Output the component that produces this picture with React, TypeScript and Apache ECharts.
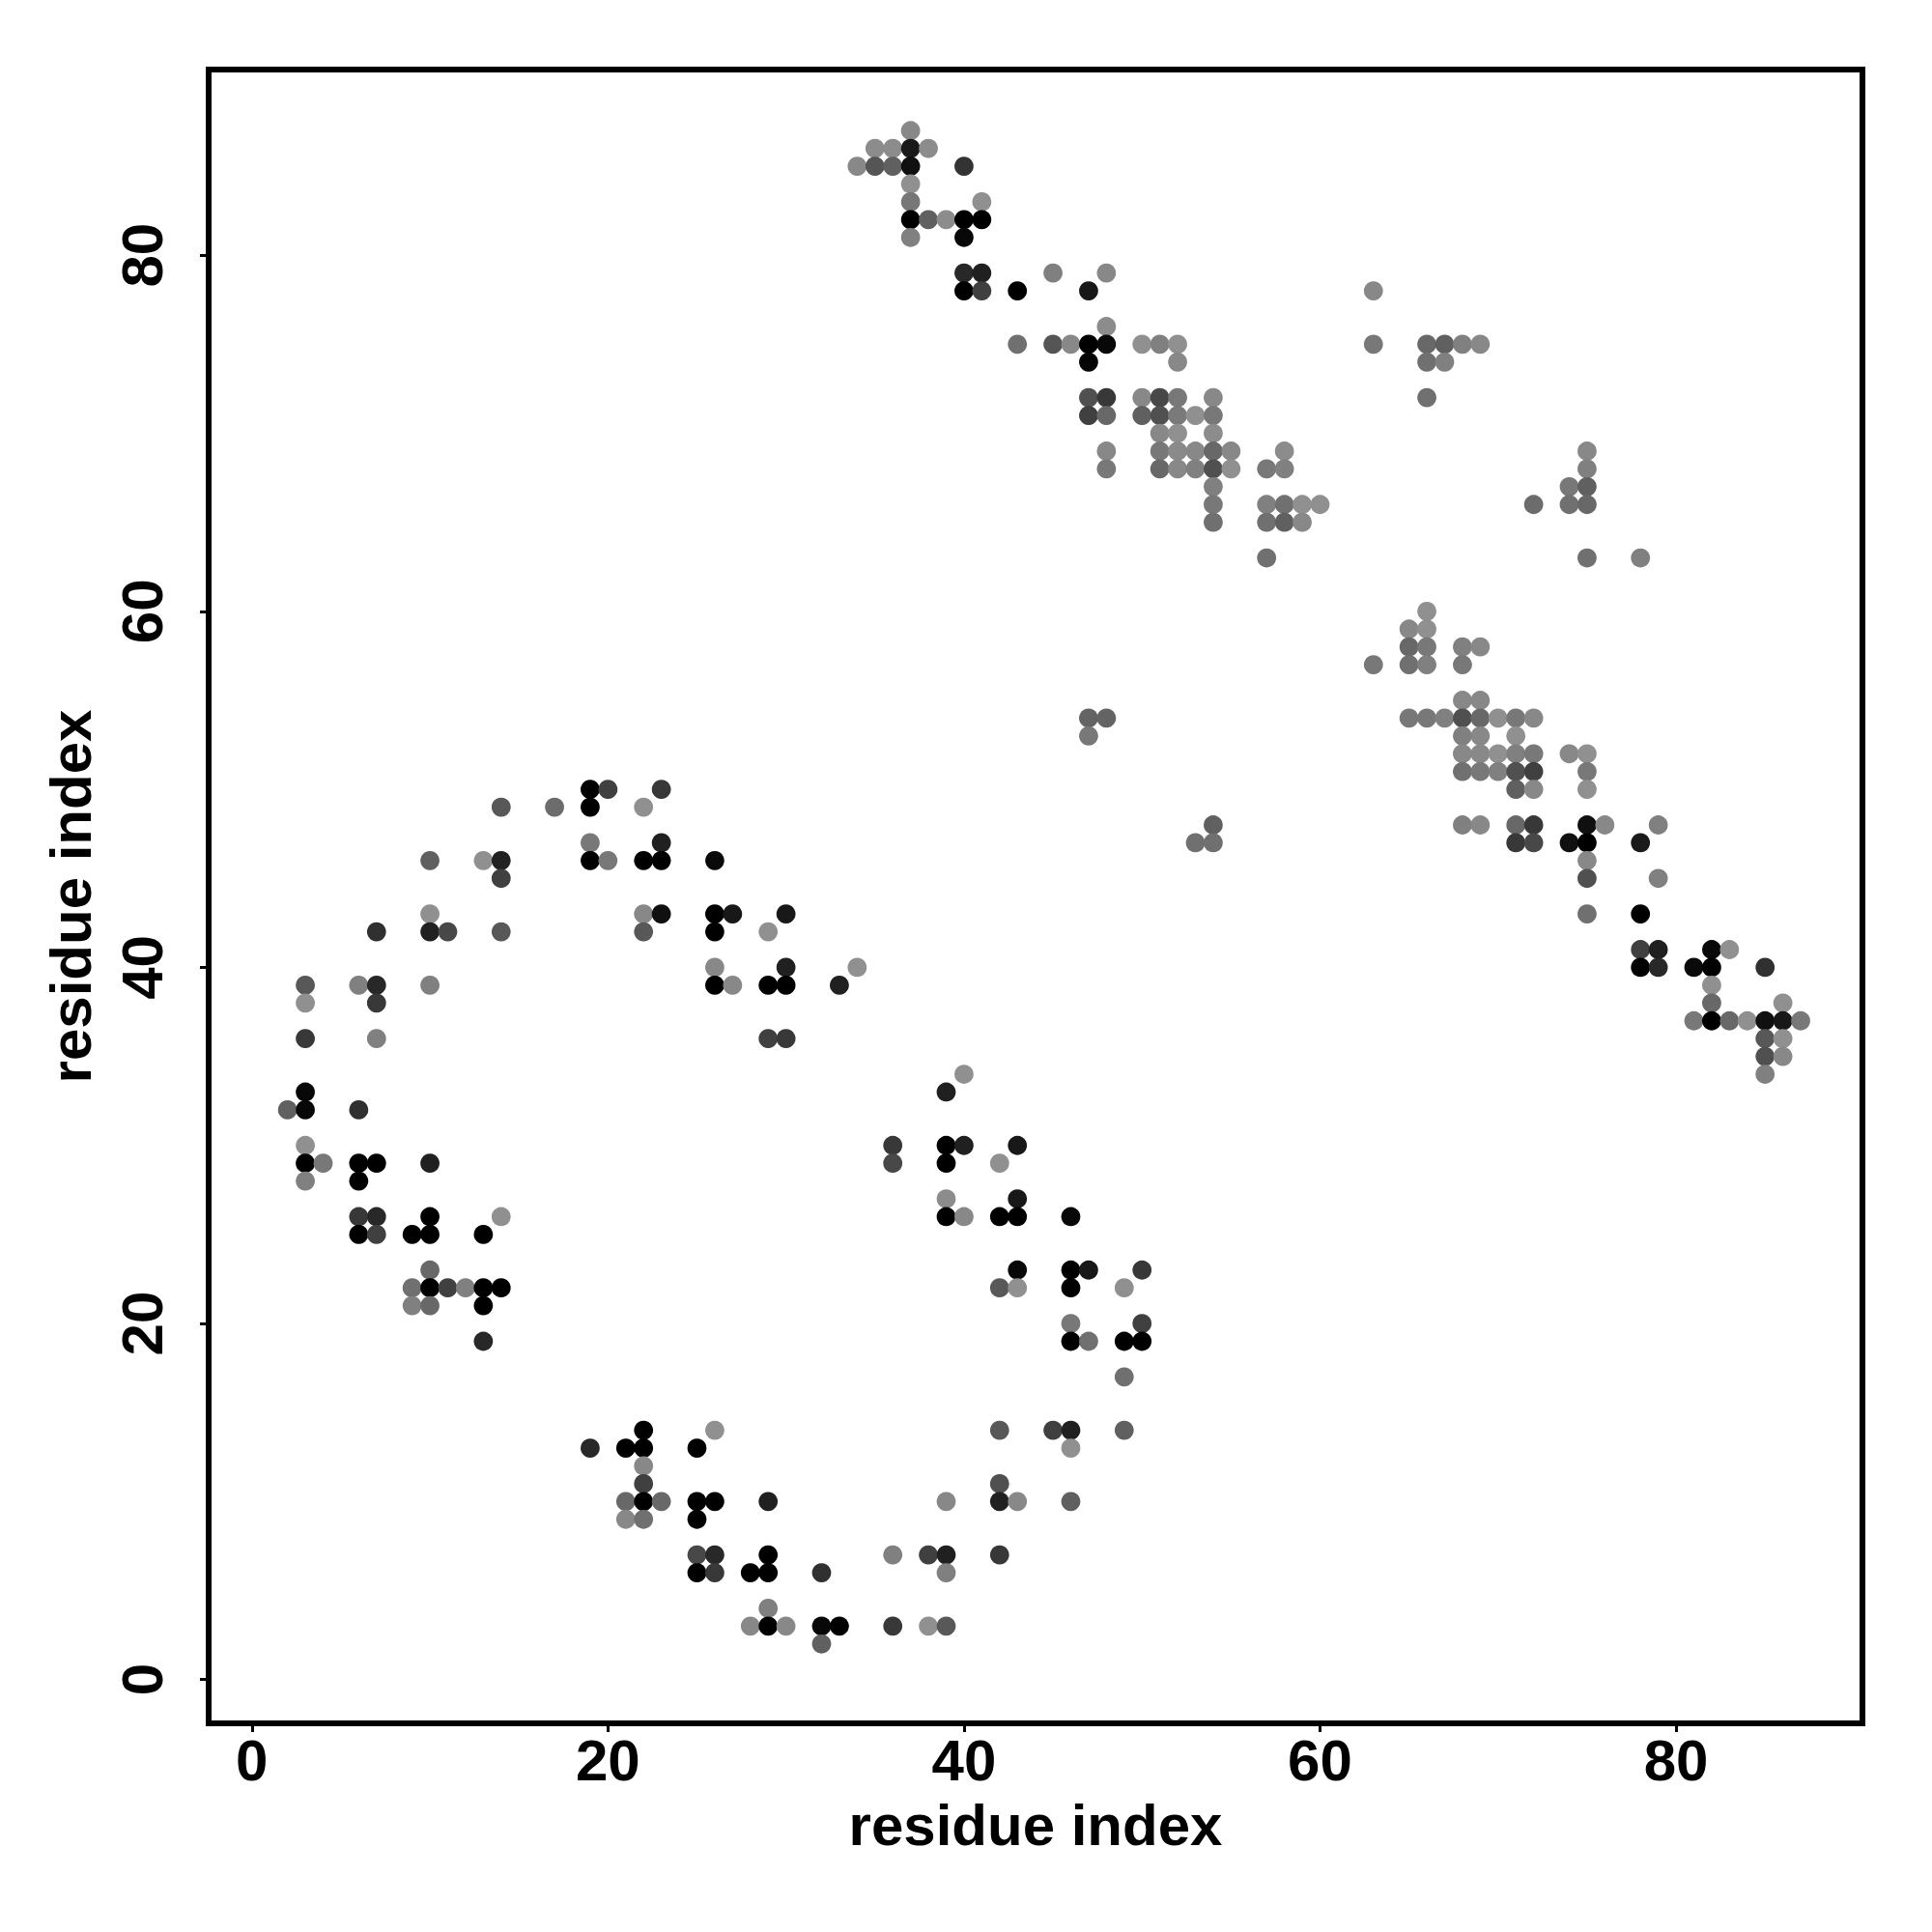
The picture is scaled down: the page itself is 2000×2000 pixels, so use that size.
import React, { useEffect, useRef } from "react";
import * as echarts from "echarts";

const tickValues = [0, 20, 40, 60, 80];
const axisTitle = "residue index";

// Each row: residue on y, then the residues on x with their shade (0 = black, 144 = lightest)
const rowY = [87, 86, 85, 84, 83, 82, 81, 79, 78, 76, 75, 74, 72, 71, 70, 69, 68, 67, 66, 65, 63, 60, 59, 58, 57, 55, 54, 53, 52, 51, 50, 49, 48, 47, 46, 45, 43, 42, 41, 40, 39, 38, 37, 36, 35, 34, 33, 32, 30, 29, 28, 27, 26, 25, 23, 22, 21, 20, 19, 17, 14, 13, 12, 11, 10, 9, 7, 6, 4, 3, 2];
const rowX = [
  [37],
  [35, 36, 37, 38],
  [34, 35, 36, 37, 40],
  [37],
  [37, 41],
  [37, 38, 39, 40, 41],
  [37, 40],
  [40, 41, 45, 48],
  [40, 41, 43, 47, 63],
  [48],
  [43, 45, 46, 47, 48, 50, 51, 52, 63, 66, 67, 68, 69],
  [47, 52, 66, 67],
  [47, 48, 50, 51, 52, 54, 66],
  [47, 48, 50, 51, 52, 53, 54],
  [51, 52, 54],
  [48, 51, 52, 53, 54, 55, 58, 75],
  [48, 51, 52, 53, 54, 55, 57, 58, 75],
  [54, 74, 75],
  [54, 57, 58, 59, 60, 72, 74, 75],
  [54, 57, 58, 59],
  [57, 75, 78],
  [66],
  [65, 66],
  [65, 66, 68, 69],
  [63, 65, 66, 68],
  [68, 69],
  [47, 48, 65, 66, 67, 68, 69, 70, 71, 72],
  [47, 68, 69, 71],
  [68, 69, 70, 71, 72, 74, 75],
  [68, 69, 70, 71, 72, 75],
  [19, 20, 23, 71, 72, 75],
  [14, 17, 19, 22],
  [54, 68, 69, 71, 72, 75, 76, 79],
  [19, 23, 53, 54, 71, 72, 74, 75, 78],
  [10, 13, 14, 19, 20, 22, 23, 26, 75],
  [14, 75, 79],
  [10, 22, 23, 26, 27, 30, 75, 78],
  [7, 10, 11, 14, 22, 26, 29],
  [78, 79, 82, 83],
  [26, 30, 34, 78, 79, 81, 82, 85],
  [3, 6, 7, 10, 26, 27, 29, 30, 33, 82],
  [3, 7, 82, 86],
  [81, 82, 83, 84, 85, 86, 87],
  [3, 7, 29, 30, 85, 86],
  [85, 86],
  [40, 85],
  [3, 39],
  [2, 3, 6],
  [3, 36, 39, 40, 43],
  [3, 4, 6, 7, 10, 36, 39, 42],
  [3, 6],
  [39, 43],
  [6, 7, 10, 14, 39, 40, 42, 43, 46],
  [6, 7, 9, 10, 13],
  [10, 43, 46, 47, 50],
  [9, 10, 11, 12, 13, 14, 42, 43, 46, 49],
  [9, 10, 13],
  [46, 50],
  [13, 46, 47, 49, 50],
  [49],
  [22, 26, 42, 45, 46, 49],
  [19, 21, 22, 25, 46],
  [22],
  [22, 42],
  [21, 22, 23, 25, 26, 29, 39, 42, 43, 46],
  [21, 22, 25],
  [25, 26, 29, 36, 38, 39, 42],
  [25, 26, 28, 29, 32, 39],
  [29],
  [28, 29, 30, 32, 33, 36, 38, 39],
  [32],
];
const rowShade = [
  [136],
  [140, 140, 26, 140],
  [136, 85, 96, 16, 51],
  [144],
  [119, 144],
  [0, 96, 140, 0, 0],
  [128, 8],
  [40, 32, 128, 136],
  [0, 64, 0, 24, 136],
  [140],
  [112, 85, 136, 0, 8, 144, 128, 144, 120, 104, 96, 128, 136],
  [5, 136, 112, 128],
  [80, 56, 136, 72, 120, 136, 112],
  [64, 104, 96, 80, 122, 144, 120],
  [136, 144, 140],
  [136, 120, 138, 136, 104, 136, 140, 136],
  [120, 104, 136, 128, 80, 144, 120, 128, 128],
  [128, 120, 96],
  [120, 128, 112, 144, 144, 108, 112, 104],
  [112, 112, 96, 136],
  [112, 112, 128],
  [144],
  [136, 144],
  [104, 120, 128, 136],
  [120, 112, 128, 120],
  [136, 136],
  [100, 100, 120, 120, 128, 80, 104, 144, 120, 136],
  [120, 128, 136, 144],
  [136, 136, 144, 128, 120, 136, 144],
  [112, 120, 128, 80, 64, 120],
  [0, 64, 56, 96, 136, 144],
  [88, 108, 0, 144],
  [96, 128, 136, 104, 56, 16, 136, 128],
  [120, 32, 112, 112, 56, 72, 16, 0, 26],
  [96, 144, 34, 0, 120, 0, 0, 10, 136],
  [64, 80, 128],
  [144, 136, 16, 0, 24, 24, 112, 0],
  [48, 32, 72, 88, 88, 0, 144],
  [64, 32, 8, 144],
  [136, 32, 144, 0, 40, 10, 0, 48],
  [88, 128, 40, 128, 0, 136, 0, 0, 32, 144],
  [144, 56, 104, 144],
  [120, 0, 104, 144, 16, 24, 120],
  [56, 128, 64, 56, 88, 144],
  [80, 136],
  [144, 128],
  [8, 32],
  [96, 8, 48],
  [144, 56, 0, 32, 24],
  [0, 120, 0, 0, 32, 72, 0, 144],
  [128, 0],
  [140, 24],
  [56, 40, 0, 144, 0, 136, 0, 0, 8],
  [0, 64, 0, 0, 0],
  [104, 8, 0, 24, 56],
  [112, 0, 64, 128, 0, 0, 88, 144, 0, 144],
  [128, 104, 0],
  [120, 64],
  [40, 0, 112, 0, 0],
  [112],
  [0, 144, 88, 64, 32, 96],
  [40, 0, 0, 0, 144],
  [136],
  [64, 80],
  [104, 0, 104, 0, 0, 32, 136, 32, 136, 96],
  [136, 112, 0],
  [72, 40, 0, 128, 64, 32, 56],
  [0, 56, 0, 0, 48, 128],
  [128],
  [136, 0, 136, 8, 0, 56, 144, 88],
  [96],
];

const points = rowY.flatMap((y, r) => rowX[r].map((x, c) => [x, y, rowShade[r][c]]));

export default function App() {
  const ref = useRef<HTMLDivElement>(null);
  useEffect(() => {
    const chart = echarts.init(ref.current!, null, { renderer: "svg" });
    const font = "'Liberation Sans', Arial, sans-serif";
    const axisCommon = {
      type: "value",
      name: axisTitle,
      nameLocation: "middle",
      nameTextStyle: { fontFamily: font, fontWeight: "bold", fontSize: 60, color: "#000" },
      axisLine: { show: false, onZero: false },
      axisTick: { show: true, length: 9, lineStyle: { width: 3, color: "#000" }, customValues: tickValues },
      splitLine: { show: false },
    };
    const labelStyle = { fontFamily: font, fontWeight: "bold", fontSize: 60, color: "#000", customValues: tickValues, formatter: (v: number) => String(v) };
    chart.setOption({
      animation: false,
      backgroundColor: "#fff",
      grid: { left: 216, top: 72, width: 1712, height: 1712, show: true, borderWidth: 6, borderColor: "#000", backgroundColor: "#fff" },
      xAxis: { ...axisCommon, min: -2.43, max: 90.47, nameGap: 75, axisLabel: { ...labelStyle, margin: 8 } },
      yAxis: { ...axisCommon, min: -2.46, max: 90.43, nameRotate: 90, nameGap: 113, axisLabel: { ...labelStyle, rotate: 90, margin: 39 } },
      series: [
        {
          type: "scatter",
          data: points,
          symbol: "circle",
          symbolSize: 19.8,
          itemStyle: {
            opacity: 1,
            color: (p: any) => {
              const s = p.value[2];
              return `rgb(${s},${s},${s})`;
            },
          },
        },
      ],
    });
    return () => chart.dispose();
  }, []);
  return <div ref={ref} style={{ position: "absolute", left: 0, top: 0, width: 2000, height: 2000 }} />;
}
